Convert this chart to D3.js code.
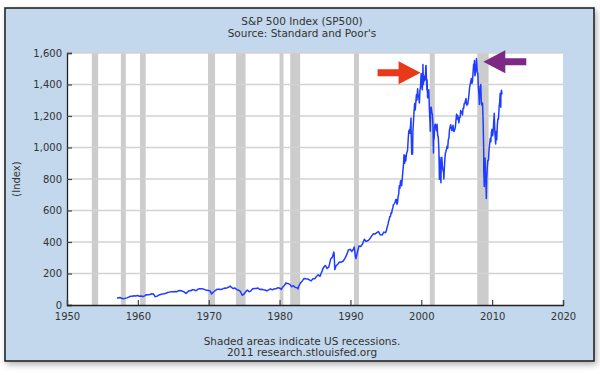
<!DOCTYPE html>
<html>
<head>
<meta charset="utf-8">
<script src="https://cdn.jsdelivr.net/npm/d3@7"></script>
<style>
  html, body { margin: 0; padding: 0; background: #ffffff; }
  svg { display: block; }
  text { font-family: "DejaVu Sans", Verdana, sans-serif; }
</style>
</head>
<body>
<svg id="chart" width="600" height="375"></svg>
<script>
// ---- Data ----
const titleLines = ["S&P 500 Index (SP500)", "Source: Standard and Poor's"];
const footerLines = ["Shaded areas indicate US recessions.", "2011 research.stlouisfed.org"];
const yAxisLabel = "(Index)";
const xTicks = [1950, 1960, 1970, 1980, 1990, 2000, 2010, 2020];
const yTicks = [0, 200, 400, 600, 800, 1000, 1200, 1400, 1600];

// NBER recessions (decimal years)
const recessionStarts = [1953.5, 1957.6, 1960.3, 1969.9, 1973.85, 1980.0, 1981.5, 1990.5, 2001.2, 2007.9];
const recessionEnds   = [1954.4, 1958.3, 1961.1, 1970.9, 1975.2, 1980.55, 1982.9, 1991.2, 2001.9, 2009.5];

// Quarterly closes 1957-1994 (Q1..Q4 per year)
const quarterlyFirstYear = 1957;
const quarterlyValues = [
  44.1, 47.4, 42.4, 40.0,
  42.1, 45.2, 50.1, 55.2,
  55.4, 58.5, 56.9, 59.9,
  55.3, 56.9, 53.5, 58.1,
  65.1, 64.6, 66.7, 71.6,
  69.6, 54.8, 56.3, 63.1,
  66.6, 69.4, 71.7, 75.0,
  79.0, 81.7, 84.2, 84.8,
  86.2, 84.1, 90.0, 92.4,
  89.2, 84.7, 76.6, 80.3,
  90.2, 90.6, 96.7, 96.5,
  90.2, 99.6, 102.7, 103.9,
  101.5, 97.7, 93.1, 92.1,
  89.6, 72.7, 84.2, 92.2,
  100.3, 99.7, 98.3, 102.1,
  107.2, 107.1, 110.6, 118.1,
  111.5, 104.3, 108.4, 97.6,
  94.0, 86.0, 63.5, 68.6,
  83.4, 95.2, 83.9, 90.2,
  102.8, 104.3, 105.2, 107.5,
  98.4, 100.5, 96.5, 95.1,
  89.2, 95.5, 102.5, 96.1,
  101.6, 102.9, 109.3, 107.9,
  102.1, 114.2, 125.5, 135.8,
  136.0, 131.2, 116.2, 122.6,
  112.0, 109.6, 120.4, 140.6,
  153.0, 168.1, 166.1, 164.9,
  159.2, 153.2, 166.1, 167.2,
  180.7, 191.9, 182.1, 211.3,
  238.9, 250.8, 231.3, 242.2,
  291.7, 304.0, 321.8, 247.1,
  258.9, 273.5, 271.9, 277.7,
  294.9, 318.0, 349.2, 353.4,
  339.9, 358.0, 306.1, 330.2,
  375.2, 371.2, 387.9, 417.1,
  403.7, 408.1, 417.8, 435.7,
  451.7, 450.5, 458.9, 466.5,
  445.8, 444.3, 462.7, 459.3
];

// Monthly closes Jan 1995 - Apr 2011
const monthlyFirstYear = 1995;
const monthlyValues = [
  470.4, 487.4, 500.7, 514.7, 533.4, 544.8, 562.1, 561.9, 584.4, 581.5, 605.4, 615.9,
  636.0, 640.4, 645.5, 654.2, 669.1, 670.6, 639.9, 652.0, 687.3, 705.3, 757.0, 740.7,
  786.2, 790.8, 757.1, 801.3, 848.3, 885.1, 954.3, 899.5, 947.3, 914.6, 955.4, 970.4,
  980.3, 1049.3, 1101.8, 1111.8, 1090.8, 1133.8, 1120.7, 957.3, 1017.0, 1098.7, 1163.6, 1229.2,
  1279.6, 1238.3, 1286.4, 1335.2, 1301.8, 1372.7, 1328.7, 1320.4, 1282.7, 1362.9, 1388.9, 1469.3,
  1394.5, 1366.4, 1498.6, 1452.4, 1420.6, 1454.6, 1430.8, 1517.7, 1436.5, 1429.4, 1315.2, 1320.3,
  1366.0, 1239.9, 1160.3, 1249.5, 1255.8, 1224.4, 1211.2, 1133.6, 1040.9, 1059.8, 1139.5, 1148.1,
  1130.2, 1106.7, 1147.4, 1076.9, 1067.1, 989.8, 911.6, 916.1, 815.3, 885.8, 936.3, 879.8,
  855.7, 841.2, 848.2, 916.9, 963.6, 974.5, 990.3, 1008.0, 996.0, 1050.7, 1058.2, 1111.9,
  1131.1, 1144.9, 1126.2, 1107.3, 1120.7, 1140.8, 1101.7, 1104.2, 1114.6, 1130.2, 1173.8, 1211.9,
  1181.3, 1203.6, 1180.6, 1156.9, 1191.5, 1191.3, 1234.2, 1220.3, 1228.8, 1207.0, 1249.5, 1248.3,
  1280.1, 1280.7, 1294.9, 1310.6, 1270.1, 1270.2, 1276.7, 1303.8, 1335.9, 1377.9, 1400.6, 1418.3,
  1438.2, 1406.8, 1420.9, 1482.4, 1530.6, 1503.4, 1455.3, 1474.0, 1526.8, 1549.4, 1481.1, 1468.4,
  1378.6, 1330.6, 1322.7, 1385.6, 1400.4, 1280.0, 1267.4, 1282.8, 1166.4, 968.8, 896.2, 903.3,
  825.9, 735.1, 797.9, 872.8, 919.1, 919.3, 987.5, 1020.6, 1057.1, 1036.2, 1095.6, 1115.1,
  1073.9, 1104.5, 1169.4, 1186.7, 1089.4, 1030.7, 1101.6, 1049.3, 1141.2, 1183.3, 1180.6, 1257.6,
  1286.1, 1327.2, 1325.8, 1363.6
];

// Intra-period highs / lows (decimal year, value)
const extremeDates = [
  1957.05, 1962.45, 1966.78, 1970.4, 1973.02, 1974.78, 1980.22, 1980.9, 1982.6,
  1987.65, 1987.72, 1987.8, 1990.53, 1990.78,
  1998.55, 1998.66, 1998.77, 2000.23, 2000.3, 2000.67, 2000.8, 2001.27, 2001.72,
  2002.56, 2002.64, 2002.77, 2002.9, 2003.19, 2007.5, 2007.78, 2008.2, 2008.82,
  2008.89, 2009.0, 2009.18, 2010.3, 2010.5, 2011.13, 2011.22, 2011.4
];
const extremeValues = [
  45.4, 52.3, 73.2, 69.3, 120.2, 62.3, 98.2, 140.5, 102.4,
  336.8, 300.0, 224.8, 368.9, 295.5,
  1186.8, 957.3, 959.4, 1527.5, 1400.0, 1520.8, 1364.0, 1103.0, 965.8,
  797.7, 937.0, 776.8, 938.0, 800.7, 1553.0, 1565.2, 1273.0, 848.0,
  752.4, 934.0, 676.5, 1217.3, 1022.6, 1343.0, 1256.0, 1337.0
];

// Annotation arrow anchors (data space: tip position)
const redArrowTip = [1999.9, 1475];
const purpleArrowTip = [2008.75, 1545];

// ---- Build series ----
const series = [];
quarterlyValues.forEach((v, i) => {
  const yr = quarterlyFirstYear + Math.floor(i / 4);
  series.push({ t: yr + (i % 4 + 1) * 0.25 - 0.04, v });
});
monthlyValues.forEach((v, i) => {
  const yr = monthlyFirstYear + Math.floor(i / 12);
  series.push({ t: yr + (i % 12 + 1) / 12 - 0.02, v });
});
extremeDates.forEach((t, i) => series.push({ t, v: extremeValues[i] }));
series.sort((a, b) => a.t - b.t);

// ---- Drawing ----
const svg = d3.select("#chart");
const panel = { x: 5, y: 8, w: 589, h: 353 };
const plot = { left: 67, right: 563, top: 53, bottom: 305 };

const defs = svg.append("defs");
const f = defs.append("filter").attr("id", "shadow")
  .attr("x", "-5%").attr("y", "-5%").attr("width", "115%").attr("height", "120%");
f.append("feDropShadow").attr("dx", 2).attr("dy", 3).attr("stdDeviation", 3)
  .attr("flood-color", "#000").attr("flood-opacity", 0.3);

svg.append("rect")
  .attr("x", panel.x).attr("y", panel.y).attr("width", panel.w).attr("height", panel.h)
  .attr("fill", "#c3d8ec").attr("stroke", "#1a1a1a").attr("stroke-width", 1.5)
  .attr("filter", "url(#shadow)");

const x = d3.scaleLinear().domain([1950, 2020]).range([plot.left, plot.right]);
const y = d3.scaleLinear().domain([0, 1600]).range([plot.bottom, plot.top]);

// plot background
svg.append("rect")
  .attr("x", plot.left).attr("y", plot.top)
  .attr("width", plot.right - plot.left).attr("height", plot.bottom - plot.top)
  .attr("fill", "#ffffff");

// recession bands
svg.append("g").selectAll("rect").data(recessionStarts).join("rect")
  .attr("x", (d) => x(d))
  .attr("width", (d, i) => x(recessionEnds[i]) - x(d))
  .attr("y", plot.top).attr("height", plot.bottom - plot.top)
  .attr("fill", "#cccccc");

// horizontal gridlines
svg.append("g").selectAll("line").data(yTicks.filter(d => d > 0)).join("line")
  .attr("x1", plot.left).attr("x2", plot.right)
  .attr("y1", d => y(d)).attr("y2", d => y(d))
  .attr("stroke", "#d2d2d2").attr("stroke-width", 1.5);

// line
const line = d3.line().x(d => x(d.t)).y(d => y(d.v));
svg.append("path").datum(series)
  .attr("d", line).attr("fill", "none")
  .attr("stroke", "#1f3dff").attr("stroke-width", 1.5).attr("stroke-linejoin", "round");

// axes
const yAxis = svg.append("g").attr("transform", `translate(${plot.left},0)`)
  .call(d3.axisLeft(y).tickValues(yTicks).tickSize(-5).tickPadding(5).tickFormat(d3.format(",")));
const xAxis = svg.append("g").attr("transform", `translate(0,${plot.bottom})`)
  .call(d3.axisBottom(x).tickValues(xTicks).tickSize(-5).tickPadding(8).tickFormat(d3.format("d")));
[yAxis, xAxis].forEach(g => {
  g.select(".domain").attr("stroke", "#222").attr("stroke-width", 1.3);
  g.selectAll(".tick line").attr("stroke", "#444").attr("stroke-width", 1.2);
  g.selectAll(".tick text").attr("fill", "#333").style("font-size", "10px")
    .style("font-family", '"DejaVu Sans", Verdana, sans-serif');
});

// y axis label
svg.append("text")
  .attr("transform", `translate(16,${(plot.top + plot.bottom) / 2}) rotate(-90)`)
  .attr("text-anchor", "middle").attr("dominant-baseline", "central")
  .attr("fill", "#333").style("font-size", "10px").text(yAxisLabel);

// titles
svg.append("g").selectAll("text").data(titleLines).join("text")
  .attr("x", 302).attr("y", (d, i) => 25 + i * 11.5)
  .attr("text-anchor", "middle").attr("fill", "#333").style("font-size", "10.5px")
  .text(d => d);

svg.append("g").selectAll("text").data(footerLines).join("text")
  .attr("x", 302).attr("y", (d, i) => 344.5 + i * 11.5)
  .attr("text-anchor", "middle").attr("fill", "#333").style("font-size", "10.5px")
  .text(d => d);

// arrows
function arrow(tipData, dir, color) {
  const tx = x(tipData[0]), ty = y(tipData[1]);
  const headL = 22, headH = 11.5, shaftL = 21, shaftH = 3.5;
  const s = dir; // +1: pointing right (tip at right), -1: pointing left
  const bx = tx - s * headL;
  const ex = bx - s * shaftL;
  const pts = [
    [tx, ty], [bx, ty - headH], [bx, ty - shaftH], [ex, ty - shaftH],
    [ex, ty + shaftH], [bx, ty + shaftH], [bx, ty + headH]
  ];
  svg.append("polygon").attr("points", pts.map(p => p.join(",")).join(" "))
    .attr("fill", color);
}
arrow(redArrowTip, 1, "#e8391a");
arrow(purpleArrowTip, -1, "#7d2a84");
</script>
</body>
</html>
